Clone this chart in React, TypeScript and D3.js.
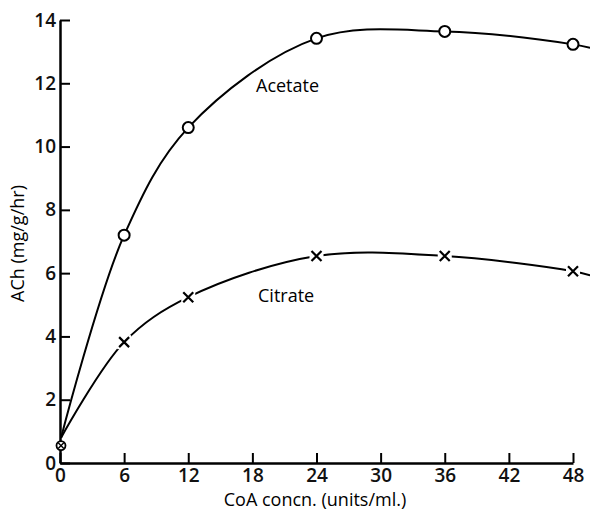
import React, { useEffect, useRef } from 'react'
import * as d3 from 'd3'

// CoA concentration (units/ml) and ACh (mg/g/hr)
const xTicks = [0, 6, 12, 18, 24, 30, 36, 42, 48]
const yTicks = [0, 2, 4, 6, 8, 10, 12, 14]

const acetateX = [6, 12, 24, 36, 48]
const acetateY = [7.2, 10.6, 13.42, 13.64, 13.23]
const citrateX = [6, 12, 24, 36, 48]
const citrateY = [3.82, 5.24, 6.54, 6.54, 6.06]

// curve traces: start near origin, run off the right edge
const acetateCurveX = [0.1, 6, 12, 24, 36, 48, 49.6]
const acetateCurveY = [0.8, 7.2, 10.6, 13.42, 13.64, 13.23, 13.12]
const citrateCurveX = [0.1, 6, 12, 24, 36, 48, 49.6]
const citrateCurveY = [0.8, 3.82, 5.24, 6.54, 6.54, 6.06, 5.93]

const originX = 0
const originY = 0.55

export default function App() {
  const ref = useRef<SVGSVGElement>(null)

  useEffect(() => {
    const svg = d3.select(ref.current)
    svg.selectAll('*').remove()

    const x = d3.scaleLinear().domain([0, 48]).range([60, 573])
    const y = d3.scaleLinear().domain([0, 14]).range([463, 20])
    const font = "'Open Sans', 'Lato', sans-serif"

    // axes
    const ax = svg.append('g').attr('transform', `translate(0,${y(0)})`)
    ax.call(d3.axisBottom(x).tickValues(xTicks).tickSize(-10).tickSizeOuter(0).tickPadding(5))
    ax.select('.domain').attr('stroke-width', 2.5)
    ax.selectAll('.tick line').attr('stroke-width', 2)
    ax.selectAll('.tick text').attr('font-family', font).attr('font-size', 19)
      .attr('font-weight', 600).attr('fill', '#111')

    const ay = svg.append('g').attr('transform', `translate(${x(0)},0)`)
    ay.call(d3.axisLeft(y).tickValues(yTicks).tickSize(-10).tickSizeOuter(0).tickPadding(4))
    ay.select('.domain').attr('stroke-width', 2.5)
    ay.selectAll('.tick line').attr('stroke-width', 2)
    ay.selectAll('.tick text').attr('font-family', font).attr('font-size', 19)
      .attr('font-weight', 600).attr('fill', '#111')

    svg.append('text')
      .attr('x', 315).attr('y', 506)
      .attr('text-anchor', 'middle')
      .attr('font-family', font).attr('font-size', 18).attr('font-weight', 500)
      .text('CoA concn. (units/ml.)')

    svg.append('text')
      .attr('transform', `translate(24,${(y(0) + y(14)) / 2 + 2}) rotate(-90)`)
      .attr('text-anchor', 'middle')
      .attr('font-family', font).attr('font-size', 18).attr('font-weight', 500)
      .text('ACh (mg/g/hr)')

    const line = d3.line<[number, number]>()
      .x(d => x(d[0])).y(d => y(d[1]))
      .curve(d3.curveCatmullRom.alpha(0.5))

    const curves: [number[], number[]][] = [
      [acetateCurveX, acetateCurveY],
      [citrateCurveX, citrateCurveY],
    ]
    curves.forEach(([xs, ys]) => {
      svg.append('path')
        .attr('d', line(xs.map((v, i) => [v, ys[i]] as [number, number])))
        .attr('fill', 'none').attr('stroke', '#000').attr('stroke-width', 2)
    })

    // acetate circles
    svg.append('g').selectAll('circle')
      .data(acetateX.map((v, i) => [v, acetateY[i]]))
      .join('circle')
      .attr('cx', d => x(d[0])).attr('cy', d => y(d[1]))
      .attr('r', 5.5).attr('fill', '#fff')
      .attr('stroke', '#000').attr('stroke-width', 2)

    // citrate crosses
    const s = 5
    const cg = svg.append('g')
    citrateX.forEach((v, i) => {
      const cx = x(v), cy = y(citrateY[i])
      cg.append('rect').attr('x', cx - 7).attr('y', cy - 7).attr('width', 14).attr('height', 14).attr('fill', '#fff')
      cg.append('path')
        .attr('d', `M${cx - s},${cy - s}L${cx + s},${cy + s}M${cx - s},${cy + s}L${cx + s},${cy - s}`)
        .attr('stroke', '#000').attr('stroke-width', 2.2)
    })

    // origin marker (both series)
    const ox = x(originX) + 1, oy = y(originY)
    svg.append('circle').attr('cx', ox).attr('cy', oy).attr('r', 4.5)
      .attr('fill', '#fff').attr('stroke', '#000').attr('stroke-width', 1.8)
    const r = 2.8
    svg.append('path')
      .attr('d', `M${ox - r},${oy - r}L${ox + r},${oy + r}M${ox - r},${oy + r}L${ox + r},${oy - r}`)
      .attr('stroke', '#000').attr('stroke-width', 1.4)

    svg.append('text').attr('x', 256).attr('y', 92)
      .attr('font-family', font).attr('font-size', 18).attr('font-weight', 500).text('Acetate')
    svg.append('text').attr('x', 258).attr('y', 302)
      .attr('font-family', font).attr('font-size', 18).attr('font-weight', 500).text('Citrate')
  }, [])

  return (
    <svg ref={ref} width={590} height={514}
      style={{ display: 'block', position: 'absolute', top: 0, left: 0, background: '#fff' }} />
  )
}
